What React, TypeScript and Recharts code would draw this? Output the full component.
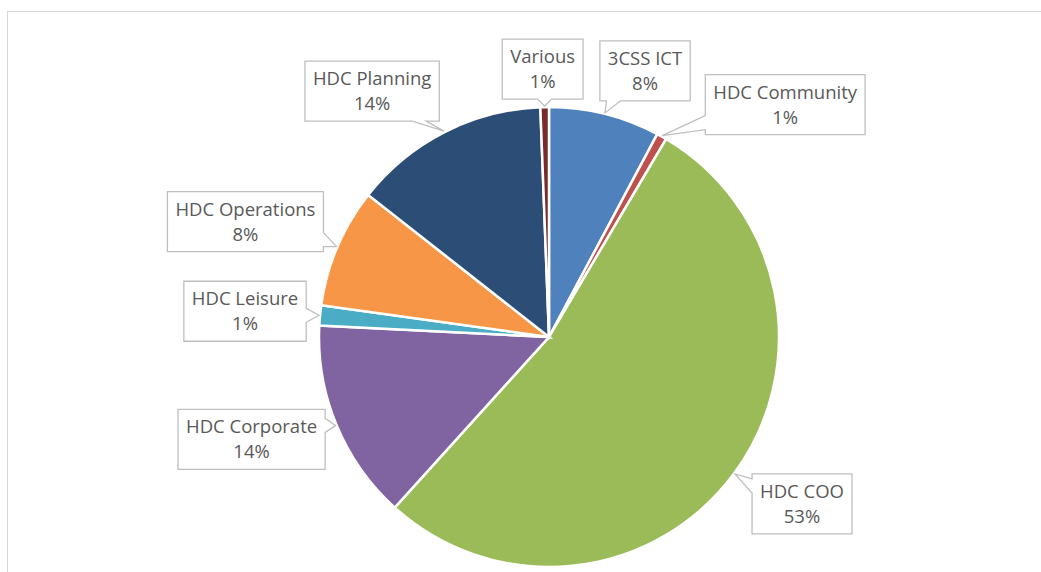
import React from 'react';
import { PieChart, Pie, Cell } from 'recharts';

const categories = [
  '3CSS ICT',
  'HDC Community',
  'HDC COO',
  'HDC Corporate',
  'HDC Leisure',
  'HDC Operations',
  'HDC Planning',
  'Various',
];
const shares = [7.8, 0.7, 53.2, 14.1, 1.4, 8.4, 13.8, 0.6];
const colors = ['#4f81bd', '#c0504d', '#9bbb59', '#8064a2', '#4bacc6', '#f79646', '#2c4d75', '#772c2a'];

const data = categories.map((name, i) => ({ name, value: shares[i] }));

// where each callout box sits, relative to the outer middle of its slice
const calloutShift: Record<string, [number, number]> = {
  '3CSS ICT': [40, -42],
  'HDC Community': [123, -31],
  'HDC COO': [67, 30],
  'HDC Corporate': [-84, 14],
  'HDC Leisure': [-74, -4],
  'HDC Operations': [-91, -25],
  'HDC Planning': [-72, -40],
  Various: [-2, -37],
};

const FONT = '18.5px "Open Sans"';
const RADIAN = Math.PI / 180;

let ctx: CanvasRenderingContext2D | null = null;
const textWidth = (s: string) => {
  if (!ctx) ctx = document.createElement('canvas').getContext('2d');
  if (!ctx) return s.length * 10;
  ctx.font = FONT;
  return ctx.measureText(s).width;
};

const clamp = (v: number, lo: number, hi: number) => Math.max(lo, Math.min(hi, v));

// rectangle with a wedge pointing at (tx, ty), like an Excel callout
const calloutPath = (x: number, y: number, w: number, h: number, tx: number, ty: number) => {
  const l = x, r = x + w, t = y, b = y + h;
  const half = 7;
  const outX = tx < l ? l - tx : tx > r ? tx - r : 0;
  const outY = ty < t ? t - ty : ty > b ? ty - b : 0;
  if (outX > outY) {
    const c = clamp(ty, t + 12, b - 12);
    if (tx < l) {
      return `M${l},${t} L${r},${t} L${r},${b} L${l},${b} L${l},${c + half} L${tx},${ty} L${l},${c - half} Z`;
    }
    return `M${l},${t} L${r},${t} L${r},${c - half} L${tx},${ty} L${r},${c + half} L${r},${b} L${l},${b} Z`;
  }
  const c = clamp(tx, l + w * 0.15, r - w * 0.15);
  if (ty < t) {
    return `M${l},${t} L${c - half},${t} L${tx},${ty} L${c + half},${t} L${r},${t} L${r},${b} L${l},${b} Z`;
  }
  return `M${l},${t} L${r},${t} L${r},${b} L${c + half},${b} L${tx},${ty} L${c - half},${b} L${l},${b} Z`;
};

const renderCallout = (props: any) => {
  const { cx, cy, midAngle, outerRadius, percent, index } = props;
  const name = categories[index];
  const pct = `${Math.round(percent * 100)}%`;
  const tipR = outerRadius + 1;
  const tx = cx + tipR * Math.cos(-midAngle * RADIAN);
  const ty = cy + tipR * Math.sin(-midAngle * RADIAN);
  const [dx, dy] = calloutShift[name] || [0, -40];
  const bx = tx + dx;
  const by = ty + dy;
  const w = Math.max(textWidth(name), textWidth(pct)) + 16;
  const h = 60;
  const x = bx - w / 2;
  const y = by - h / 2;
  return (
    <g key={`callout-${index}`}>
      <path d={calloutPath(x, y, w, h, tx, ty)} fill="#ffffff" stroke="#bfbfbf" strokeWidth={1.3} />
      <text x={bx} y={by - 6} textAnchor="middle" fill="#595959" style={{ font: FONT }}>
        {name}
      </text>
      <text x={bx} y={by + 19} textAnchor="middle" fill="#595959" style={{ font: FONT }}>
        {pct}
      </text>
    </g>
  );
};

export default function App() {
  return (
    <div
      style={{
        position: 'absolute',
        left: 0,
        top: 0,
        width: 1041,
        height: 572,
        overflow: 'hidden',
        background: '#ffffff',
      }}
    >
      <div
        style={{
          position: 'absolute',
          left: 7,
          top: 11,
          width: 1100,
          height: 700,
          borderTop: '1px solid #d9d9d9',
          borderLeft: '1px solid #d9d9d9',
        }}
      />
      <div style={{ position: 'absolute', left: 0, top: 0 }}>
        <PieChart width={1041} height={572} margin={{ top: 0, right: 0, bottom: 0, left: 0 }}>
          <Pie
            data={data}
            dataKey="value"
            nameKey="name"
            cx={549}
            cy={337}
            outerRadius={230}
            startAngle={90}
            endAngle={-270}
            stroke="#ffffff"
            strokeWidth={2.5}
            label={renderCallout}
            labelLine={false}
            isAnimationActive={false}
          >
            {data.map((d, i) => (
              <Cell key={d.name} fill={colors[i]} />
            ))}
          </Pie>
        </PieChart>
      </div>
    </div>
  );
}
